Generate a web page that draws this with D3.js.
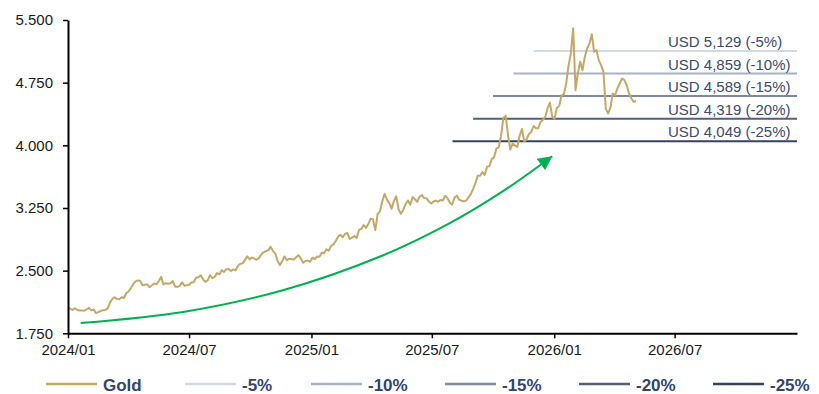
<!DOCTYPE html>
<html>
<head>
<meta charset="utf-8">
<script src="https://cdn.jsdelivr.net/npm/d3@7"></script>
<style>
  html, body { margin: 0; padding: 0; background: #ffffff; }
  svg { display: block; }
  text { font-family: "Liberation Sans", Arial, sans-serif; }
</style>
</head>
<body>
<svg id="chart" width="819" height="394"></svg>
<script>
// ---------------- DATA ----------------
// Gold price (USD/oz), sampled twice a week (Mon / Thu) from 2024-01-01
const goldStart = "2024-01-01";
const goldStepDays = 3.5;
const goldValues = [
  2063, 2043, 2030, 2050, 2028, 2023, 2022, 2020, 2035, 2055,
  2025, 2035, 1992, 2004, 2018, 2025, 2030, 2045,
  2115, 2160, 2180, 2162, 2158, 2181, 2172, 2230,
  2250, 2290, 2338, 2372, 2383, 2378, 2326, 2330, 2336, 2303,
  2322, 2346, 2336, 2376, 2425, 2335, 2350, 2343,
  2350, 2375, 2310, 2305, 2318, 2360, 2320, 2325,
  2330, 2357, 2360, 2415, 2422, 2445, 2396, 2365, 2385, 2445,
  2410, 2425, 2470, 2455, 2505, 2484, 2518, 2520,
  2495, 2515, 2505, 2558, 2582, 2587, 2629, 2672, 2635, 2656,
  2645, 2630, 2650, 2693, 2720, 2735, 2743, 2785,
  2737, 2707, 2620, 2567, 2612, 2670, 2625, 2640,
  2640, 2632, 2660, 2685, 2645, 2595, 2615, 2620, 2605, 2655,
  2636, 2670, 2665, 2715, 2708, 2755, 2740, 2795,
  2815, 2855, 2905, 2930, 2900, 2940, 2950, 2880,
  2895, 2915, 2890, 2988, 3000, 3045, 3012, 3058,
  3123, 3115, 2985, 3175, 3210, 3330, 3420, 3350, 3310, 3240,
  3335, 3390, 3235, 3180, 3230, 3295, 3340, 3290,
  3380, 3355, 3325, 3385, 3405, 3368, 3367, 3328,
  3303, 3327, 3338, 3325, 3345, 3340, 3395, 3370, 3315, 3290,
  3372, 3398, 3350, 3337, 3330, 3338, 3375, 3415,
  3476, 3545, 3635, 3635, 3680, 3645, 3745, 3750, 3835, 3855,
  3960, 3975, 4110, 4325, 4355, 4125, 3950, 4020,
  4000, 3980, 4115, 4195, 4045, 4075, 4135, 4160,
  4230, 4205, 4205, 4280, 4305, 4340, 4445, 4510, 4340, 4320,
  4450, 4470, 4600, 4610, 4740, 4950, 5100, 5400,
  4660, 4860, 5000, 4900, 5060, 5160, 5220, 5330,
  5120, 5140, 5020, 4960, 4880, 4440, 4380, 4450,
  4620, 4600, 4680, 4740, 4800, 4780, 4720, 4620, 4560, 4520,
  4530
];

// Drawdown levels from the peak (USD 5,399)
const levelNames  = ["-5%", "-10%", "-15%", "-20%", "-25%"];
const levelValues = [5129, 4859, 4589, 4319, 4049];
const levelStarts = ["2025-12-01", "2025-11-01", "2025-10-01", "2025-09-01", "2025-08-01"];
const levelColors = ["#d2d7e1", "#a9b1c4", "#7e88a2", "#545f7e", "#36425f"];

// Axis ticks
const xTickDates  = ["2024-01-01", "2024-07-01", "2025-01-01", "2025-07-01", "2026-01-01", "2026-07-01"];
const xTickLabels = ["2024/01", "2024/07", "2025/01", "2025/07", "2026/01", "2026/07"];
const yTickValues = [1750, 2500, 3250, 4000, 4750, 5500];
const yTickLabels = ["1.750", "2.500", "3.250", "4.000", "4.750", "5.500"];

// Trend arrow path (date, USD) - last point is the arrow tip
const arrowDates  = ["2024-01-20", "2024-06-22", "2024-11-19", "2025-04-19", "2025-07-28", "2025-10-16", "2025-12-29"];
const arrowValues = [1873, 2005, 2265, 2684, 3068, 3451, 3870];

// ---------------- CHART ----------------
const svg = d3.select("#chart");
const parse = d3.utcParse("%Y-%m-%d");
const goldColor = "#c4a867";
const navy = "#34446b";

const x = d3.scaleUtc()
  .domain([parse("2024-01-01"), parse("2027-01-01")])
  .range([68, 797]);
const y = d3.scaleLinear()
  .domain([1750, 5500])
  .range([333.3, 20]);

const t0 = parse(goldStart).getTime();
const gold = goldValues.map((v, i) => ({ date: new Date(t0 + i * goldStepDays * 86400000), value: v }));

// drawdown lines
const levels = levelValues.map((v, i) => ({ name: levelNames[i], value: v, start: parse(levelStarts[i]), color: levelColors[i] }));
svg.append("g").selectAll("line").data(levels).join("line")
  .attr("x1", d => x(d.start))
  .attr("x2", x.range()[1])
  .attr("y1", d => y(d.value))
  .attr("y2", d => y(d.value))
  .attr("stroke", d => d.color)
  .attr("stroke-width", 2);

svg.append("g").selectAll("text").data(levels).join("text")
  .attr("x", 668)
  .attr("y", d => y(d.value) - 4)
  .attr("font-size", 15)
  .attr("fill", "#3c4a6c")
  .text(d => "USD " + d3.format(",")(d.value) + " (" + d.name + ")");

// gold line
svg.append("path")
  .datum(gold)
  .attr("fill", "none")
  .attr("stroke", goldColor)
  .attr("stroke-width", 2)
  .attr("stroke-linejoin", "round")
  .attr("d", d3.line().x(d => x(d.date)).y(d => y(d.value)));

// trend arrow
const defs = svg.append("defs");
defs.append("marker")
  .attr("id", "arrowHead")
  .attr("viewBox", "0 0 10 10")
  .attr("refX", 10)
  .attr("refY", 5)
  .attr("markerUnits", "userSpaceOnUse")
  .attr("markerWidth", 15)
  .attr("markerHeight", 14)
  .attr("orient", "auto")
  .append("path")
  .attr("d", "M0,0 L10,5 L0,10 Z")
  .attr("fill", "#00b050");

const arrowPts = arrowDates.map((d, i) => [x(parse(d)), y(arrowValues[i])]);
svg.append("path")
  .attr("d", d3.line().curve(d3.curveCatmullRom.alpha(0.5))(arrowPts))
  .attr("fill", "none")
  .attr("stroke", "#00b050")
  .attr("stroke-width", 2)
  .attr("marker-end", "url(#arrowHead)");

// axes
const xAxis = d3.axisBottom(x)
  .tickValues(xTickDates.map(parse))
  .tickFormat((d, i) => xTickLabels[i])
  .tickSize(5)
  .tickSizeOuter(0)
  .tickPadding(6);
const gx = svg.append("g").attr("transform", "translate(0,333.3)").call(xAxis);
gx.select(".domain").attr("stroke", "#000").attr("stroke-width", 2);
gx.selectAll(".tick line").attr("stroke", "#000").attr("stroke-width", 1.5);
gx.selectAll("text").attr("font-size", 15).attr("fill", "#1a1a1a").attr("font-family", "Liberation Sans, Arial, sans-serif");

const yAxis = d3.axisLeft(y)
  .tickValues(yTickValues)
  .tickFormat((d, i) => yTickLabels[i])
  .tickSize(5)
  .tickSizeOuter(0)
  .tickPadding(10);
const gy = svg.append("g").attr("transform", "translate(68,0)").call(yAxis);
gy.select(".domain").attr("stroke", "#000").attr("stroke-width", 2);
gy.selectAll(".tick line").attr("stroke", "#000").attr("stroke-width", 1.5);
gy.selectAll("text").attr("font-size", 15).attr("fill", "#1a1a1a").attr("font-family", "Liberation Sans, Arial, sans-serif");

// legend
const legendItems = [{ name: "Gold", color: goldColor }].concat(levels.map(l => ({ name: l.name, color: l.color })));
const legendX = [46, 185, 311, 445, 579, 713];
const lg = svg.append("g").selectAll("g").data(legendItems).join("g")
  .attr("transform", (d, i) => `translate(${legendX[i]},384)`);
lg.append("line").attr("x1", 0).attr("x2", 51).attr("y1", 0).attr("y2", 0)
  .attr("stroke", d => d.color).attr("stroke-width", 2.5);
lg.append("text").attr("x", 57).attr("y", 6.5)
  .attr("font-size", 17).attr("font-weight", "bold").attr("fill", navy)
  .text(d => d.name);
</script>
</body>
</html>
